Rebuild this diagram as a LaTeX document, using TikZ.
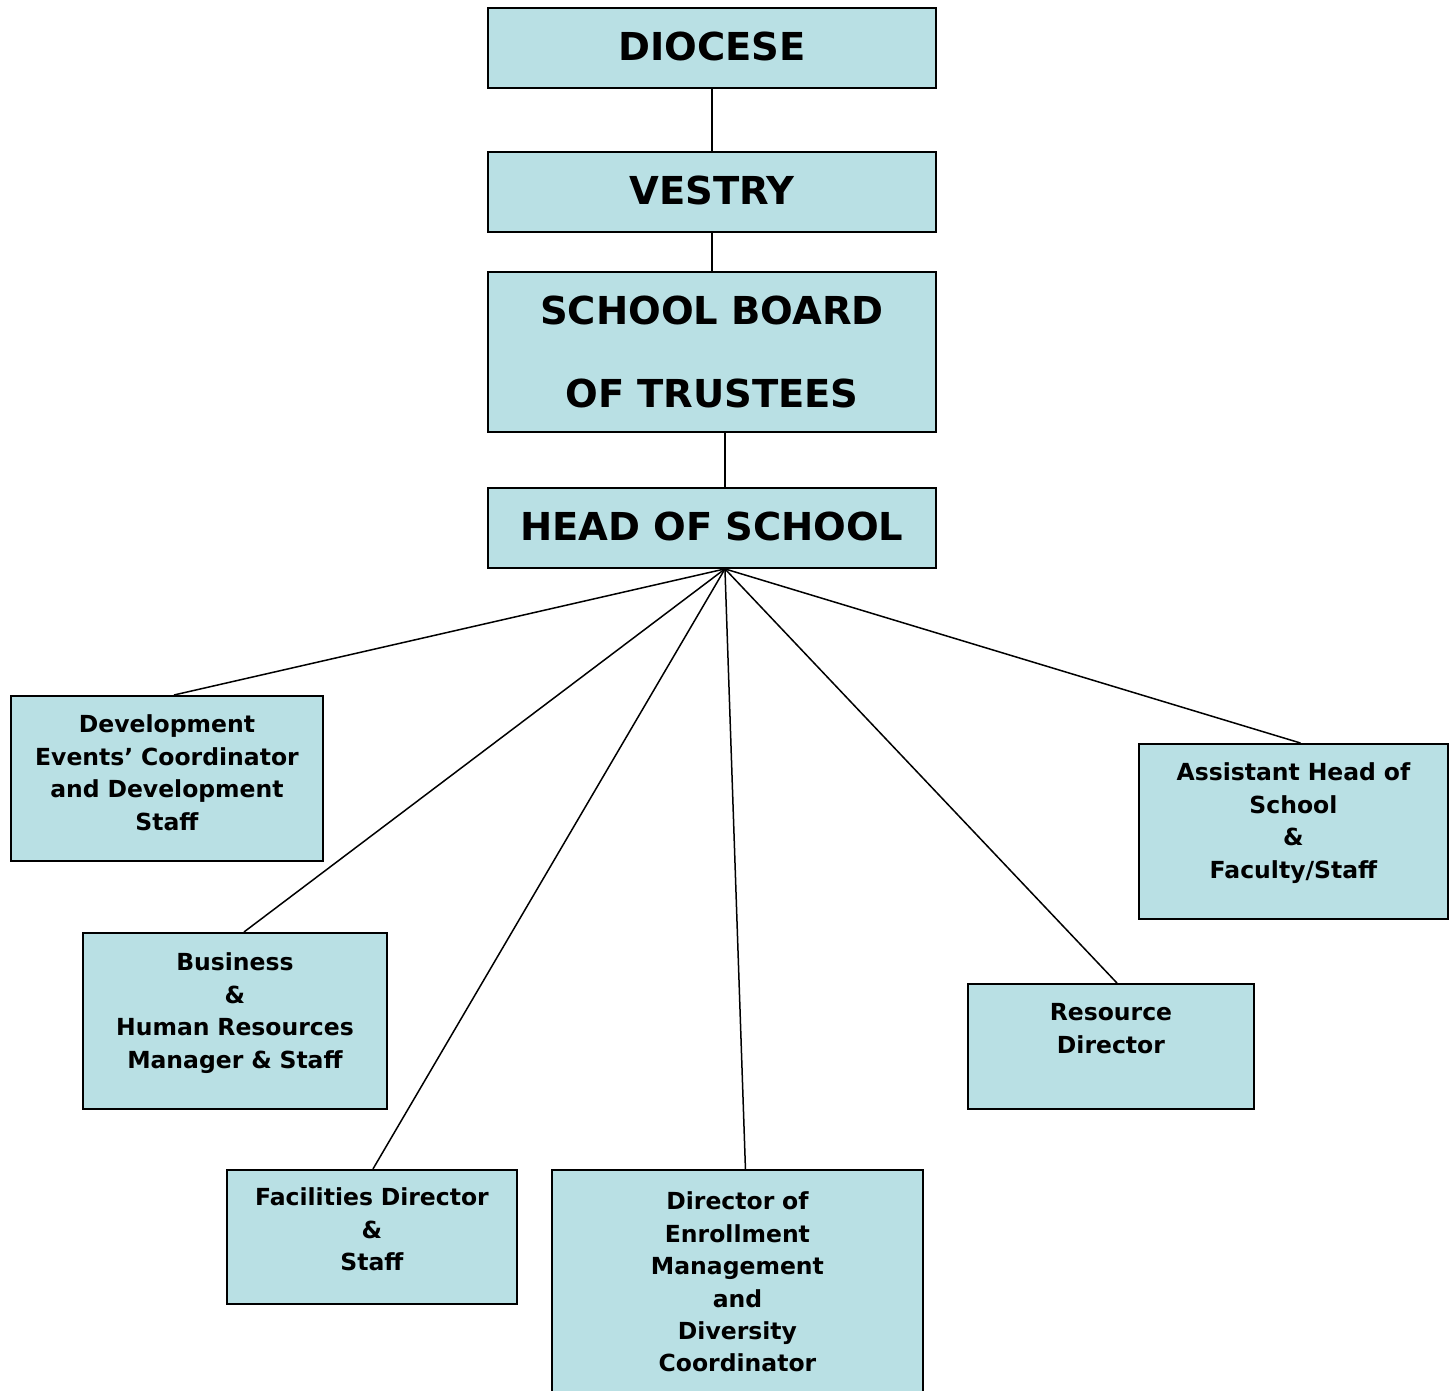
\documentclass[tikz,border=0pt]{standalone}
\usepackage{fontspec}
\setmainfont{DejaVu Sans}
\definecolor{boxfill}{RGB}{185,224,228}
\begin{document}
\begin{tikzpicture}[x=1pt, y=-1pt, line width=1.5pt,
  main/.style = {draw, fill=boxfill, line width=1.9pt, anchor=north west, inner sep=0pt, align=center},
  big/.style = {main, font=\bfseries\fontsize{38.5}{83}\selectfont, text width=448pt, text height=53pt, text depth=27pt},
  small/.style = {main, font=\bfseries\fontsize{23.5}{32.4}\selectfont, text height=37pt}]
	\useasboundingbox (0,0) rectangle (1454,1390);
	\clip (0,0) rectangle (1454,1390);
	\node[big] (diocese) at (487,7) {DIOCESE};
	\node[big] (vestry) at (487,151) {VESTRY};
	\node[big, text depth=107pt] (board) at (487,271) {SCHOOL BOARD\\OF TRUSTEES};
	\node[big] (head) at (487,487) {HEAD OF SCHOOL};
	\node[small, text width=312pt, text depth=128pt] (devel) at (10,695) {Development\\Events’ Coordinator\\and Development\\Staff};
	\node[small, text width=304pt, text depth=138pt, text height=38pt] (business) at (82,932) {Business\\\&\\Human Resources\\Manager \& Staff};
	\node[small, text width=290pt, text depth=98pt, text height=36pt] (facilities) at (226,1169) {Facilities Director\\\&\\Staff};
	\node[small, text width=371pt, text depth=200pt, text height=40pt] (enroll) at (551,1169) {Director of\\Enrollment\\Management\\and\\Diversity\\Coordinator};
	\node[small, text width=286pt, text depth=88pt] (resource) at (967,983) {Resource\\Director};
	\node[small, text width=309pt, text depth=138pt] (assistant) at (1138,743) {Assistant Head of\\School\\\&\\Faculty/Staff};
	\coordinate (hub) at ([xshift=13pt]head.south);
	\draw (diocese) -- (vestry);
	\draw (vestry) -- (board);
	\draw ([xshift=13pt]board.south) -- ([xshift=13pt]head.north);
	\draw (hub) -- ([xshift=7pt]devel.north);
	\draw (hub) -- ([xshift=9pt]business.north);
	\draw (hub) -- ([xshift=1pt]facilities.north);
	\draw (hub) -- ([xshift=8pt]enroll.north);
	\draw (hub) -- ([xshift=6pt]resource.north);
	\draw (hub) -- ([xshift=7pt]assistant.north);
\end{tikzpicture}
\end{document}
